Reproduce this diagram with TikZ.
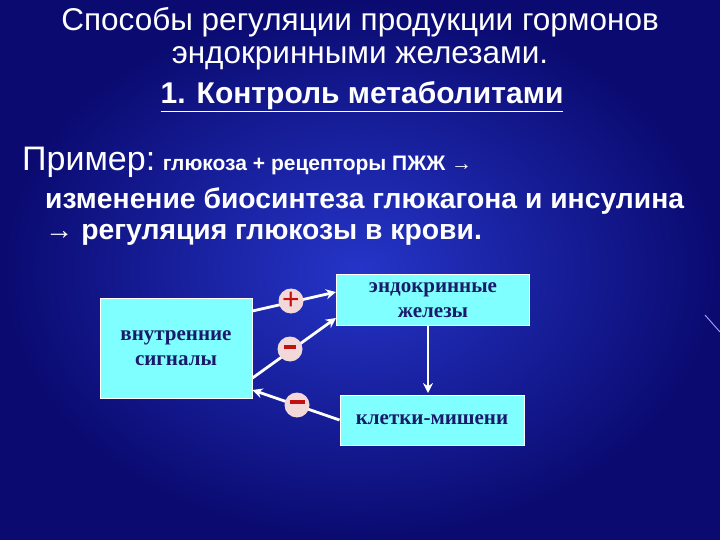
\documentclass[tikz,border=0pt]{standalone}
\usepackage{fontspec}
\setmainfont{Liberation Sans}
\newfontfamily\boxfont{Liberation Serif}
\usetikzlibrary{arrows.meta}
\definecolor{bgdark}{HTML}{0A0A70}
\definecolor{bglight}{HTML}{2535C8}
\definecolor{boxcyan}{HTML}{7FFFFF}
\definecolor{boxtext}{HTML}{1A1A6A}
\definecolor{signbg}{HTML}{F2D8D8}
\definecolor{signred}{HTML}{C01010}
\tikzset{
  x=1pt,y=-1pt,
  sbox/.style={draw=white,line width=1pt,fill=boxcyan,text=boxtext,font=\boxfont\bfseries\fontsize{21}{25}\selectfont,align=center,inner sep=0pt},
  conn/.style={draw=white,line width=2.8pt,-{Stealth[length=10pt,width=10pt]}},
  sign/.style={circle,fill=signbg,minimum size=25pt,inner sep=0pt,text=signred,font=\fontsize{30}{30}\selectfont},
  txt/.style={text=white,inner sep=0pt}
}
\begin{document}
\begin{tikzpicture}
\useasboundingbox (0,0) rectangle (720,540);
\shade[inner color=bglight,outer color=bgdark] (0,0) rectangle (720,540);
\node[txt,font=\fontsize{31.5}{36}\selectfont] (t1) at (360,22) {Способы регуляции продукции гормонов};
\node[txt,font=\fontsize{31.5}{36}\selectfont] (t2) at (360,58) {эндокринными железами.};
\node[txt,font=\bfseries\fontsize{30}{36}\selectfont] (t3) at (362,97) {\underline{1. Контроль метаболитами}};
\node[txt,anchor=west,font=\bfseries\fontsize{21}{32}\selectfont] (l1) at (22,162) {{\mdseries\fontsize{34}{36}\selectfont Пример:} глюкоза + рецепторы ПЖЖ →};
\node[txt,anchor=west,font=\bfseries\fontsize{28.3}{32}\selectfont] (l2) at (45,201) {изменение биосинтеза глюкагона и инсулина};
\node[txt,anchor=west,font=\bfseries\fontsize{28.3}{32}\selectfont] (l3) at (45,235) {→ регуляция глюкозы в крови.};
\node[sbox,minimum width=152pt,minimum height=100pt] (b1) at (176,348) {внутренние\\сигналы};
\node[sbox,minimum width=193pt,minimum height=51pt] (b2) at (433,300) {эндокринные\\железы};
\node[sbox,minimum width=184pt,minimum height=50pt] (b3) at (432,420) {клетки-мишени};
\draw[conn] (b1.east |- 0,311) -- (b2.west |- 0,292);
\draw[conn] (b1.east |- 0,378) -- (b2.west |- 0,318);
\draw[conn] (b3.west) -- (b1.east |- 0,390);
\draw[conn,line width=1.5pt] (428,326) -- (428,393);
\node[sign] (s1) at (291,301) {+};
\node[sign] (s2) at (290,349) {\rule[0.3ex]{12pt}{4pt}};
\node[sign] (s3) at (297,405) {\rule[0.4ex]{15pt}{3.5pt}};
\draw[white!60!blue,line width=1pt] (705,315) -- (720,332);
\end{tikzpicture}
\end{document}
